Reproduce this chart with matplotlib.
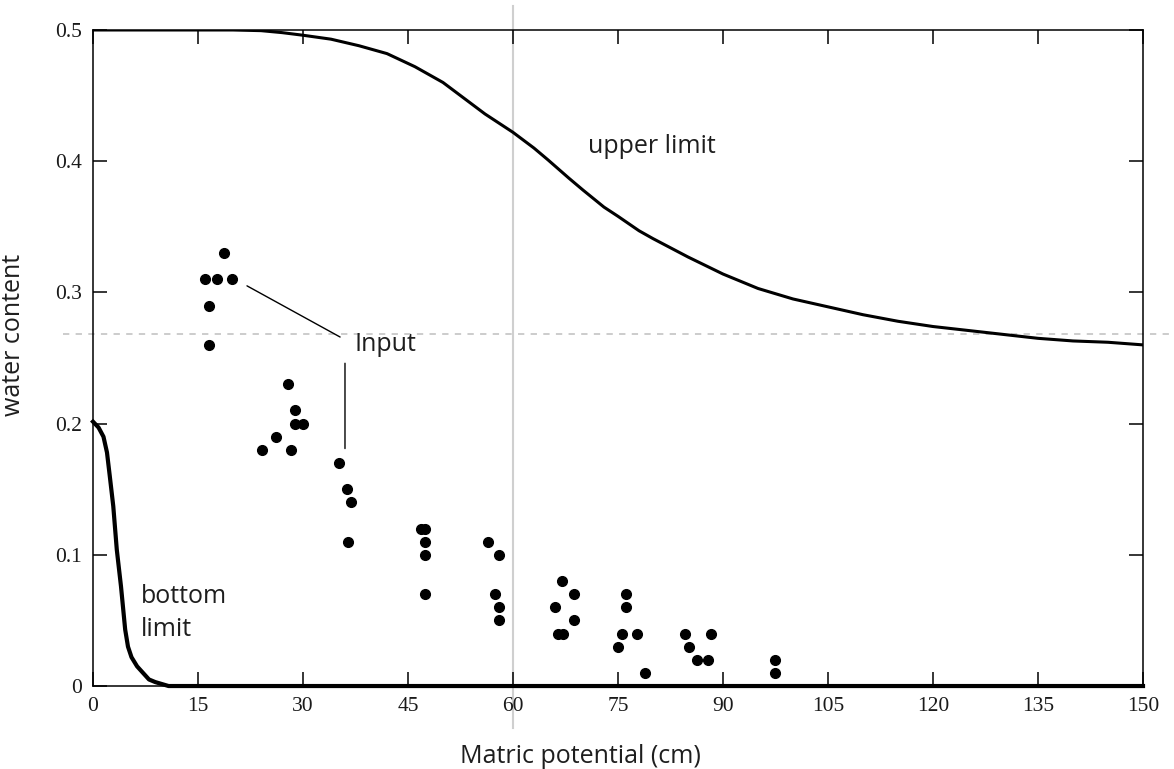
import matplotlib
matplotlib.use("Agg")
import matplotlib.pyplot as plt
import numpy as np

# measured water content (input points)
input_x = [16.0, 17.7, 18.7, 19.8, 16.6, 16.6,
           24.1, 26.1, 27.8, 28.8, 28.8, 30.0, 28.3,
           35.2, 36.3, 36.8, 36.5,
           46.8, 47.4, 47.4, 47.4, 47.4,
           56.4, 58.0, 57.5, 58.0, 58.0,
           67.0, 68.7, 66.0, 68.7, 66.5, 67.2,
           76.1, 76.1, 75.6, 77.7, 75.0, 78.8,
           84.6, 85.2, 86.3, 87.9, 88.3,
           97.4, 97.4]
input_y = [0.31, 0.31, 0.33, 0.31, 0.29, 0.26,
           0.18, 0.19, 0.23, 0.21, 0.20, 0.20, 0.18,
           0.17, 0.15, 0.14, 0.11,
           0.12, 0.12, 0.11, 0.10, 0.07,
           0.11, 0.10, 0.07, 0.06, 0.05,
           0.08, 0.07, 0.06, 0.05, 0.04, 0.04,
           0.07, 0.06, 0.04, 0.04, 0.03, 0.01,
           0.04, 0.03, 0.02, 0.02, 0.04,
           0.02, 0.01]

# upper limit curve
upper_x = [0, 10, 20, 24, 27, 30, 34, 38, 42, 44, 46, 48, 50, 53, 56, 60, 63,
           65, 68, 70, 73, 75, 78, 80, 85, 90, 95, 100, 105, 110, 115, 120,
           125, 130, 135, 140, 145, 150]
upper_y = [0.5, 0.5, 0.5, 0.4995, 0.498, 0.496, 0.493, 0.488, 0.482, 0.477,
           0.472, 0.466, 0.460, 0.448, 0.436, 0.422, 0.410, 0.401, 0.387,
           0.378, 0.365, 0.358, 0.347, 0.341, 0.327, 0.314, 0.303, 0.295,
           0.289, 0.283, 0.278, 0.274, 0.271, 0.268, 0.265, 0.263, 0.262,
           0.260]

# bottom limit curve
bottom_x = [0, 0.8, 1.5, 2.0, 2.4, 2.9, 3.4, 4.0, 4.6, 5.0, 5.5, 6.3, 7.2,
            8.0, 8.9, 10.8, 150]
bottom_y = [0.2015, 0.197, 0.190, 0.178, 0.160, 0.137, 0.104, 0.076, 0.043,
            0.030, 0.022, 0.015, 0.0097, 0.005, 0.003, 0.0, 0.0]

x_ticks = [0, 15, 30, 45, 60, 75, 90, 105, 120, 135, 150]
y_ticks = [0, 0.1, 0.2, 0.3, 0.4, 0.5]
y_tick_labels = ["0", "0.1", "0.2", "0.3", "0.4", "0.5"]

cursor_x = 60
cursor_y = 0.268

fig = plt.figure(figsize=(11.74, 7.69), dpi=100)
ax = fig.add_axes([0.0792, 0.1079, 0.8944, 0.8531])

ax.plot(upper_x, upper_y, color="black", lw=2.2, solid_joinstyle="round", zorder=3)
ax.plot(bottom_x, bottom_y, color="black", lw=3.0, solid_joinstyle="round",
        clip_on=False, zorder=3)
ax.plot(input_x, input_y, "o", color="black", ms=7, zorder=4)

# crosshair
ax.axvline(cursor_x, ymin=-0.064, ymax=1.036, color="#cfcfcf", lw=1.5, clip_on=False, zorder=1)
ax.axhline(cursor_y, xmin=-0.029, xmax=1.04, color="#c8c8c8", lw=1.3,
           ls=(0, (3.5, 3.5)), clip_on=False, zorder=1)

txt = dict(family="Open Sans", fontsize=18, color="#1e1e1e")
ax.text(70.7, 0.411, "upper limit", ha="left", va="center", **txt)
ax.text(37.4, 0.260, "Input", ha="left", va="center", **txt)
ax.text(6.8, 0.068, "bottom", ha="left", va="center", **txt)
ax.text(6.8, 0.043, "limit", ha="left", va="center", **txt)
ax.annotate("", xy=(22.0, 0.305), xytext=(35.3, 0.266),
            arrowprops=dict(arrowstyle="-", color="black", lw=1.0, shrinkA=0, shrinkB=0))
ax.annotate("", xy=(36.0, 0.181), xytext=(36.0, 0.246),
            arrowprops=dict(arrowstyle="-", color="black", lw=1.0, shrinkA=0, shrinkB=0))

ax.set_xlim(0, 150)
ax.set_ylim(0, 0.5)
ax.set_xticks(x_ticks)
ax.set_yticks(y_ticks)
ax.set_yticklabels(y_tick_labels)
ax.tick_params(direction="in", length=10, width=1.1, top=True, right=True,
               labelsize=15.5, pad=8)
for lab in ax.get_xticklabels() + ax.get_yticklabels():
    lab.set_family("Liberation Serif")
    lab.set_color("#1a1a1a")
for sp in ax.spines.values():
    sp.set_linewidth(1.1)
    sp.set_color("black")

ax.set_xlabel("Matric potential (cm)", family="Open Sans", fontsize=18, color="#1e1e1e")
ax.set_ylabel("water content", family="Open Sans", fontsize=18, color="#1e1e1e")
ax.xaxis.set_label_coords(0.464, -0.088)
ax.yaxis.set_label_coords(-0.064, 0.535)

fig.savefig("out.png", dpi=100)
